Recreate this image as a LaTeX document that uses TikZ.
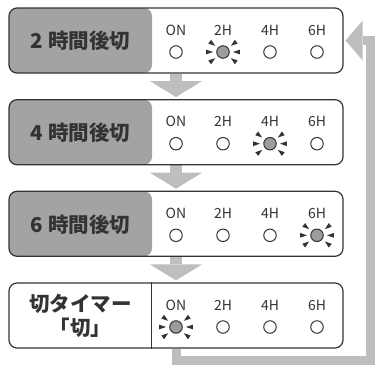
\documentclass[tikz,border=0pt]{standalone}
\usepackage{fontspec}
\usepackage{xcolor}
\usetikzlibrary{arrows.meta, positioning, calc, backgrounds}
\newfontfamily\jpfont{Noto Sans CJK JP}
\definecolor{linedark}{HTML}{333333}
\definecolor{panelgray}{HTML}{A3A3A3}
\definecolor{flowgray}{HTML}{BEBEBE}
\definecolor{lampgray}{HTML}{9C9C9C}

\begin{document}
\begin{tikzpicture}[
    x=1pt, y=-1pt,
    timerbox/.style={draw=linedark, line width=1.2pt, rounded corners=8pt, minimum width=334pt, minimum height=65pt, inner sep=0pt},
    shaded/.style={path picture={\fill[panelgray] ([xshift=-2pt]path picture bounding box.north west) rectangle ([xshift=143pt]path picture bounding box.south west);}},
    caption/.style={font=\jpfont\bfseries\fontsize{20.5}{23.5}\selectfont, text=linedark, align=center, inner sep=0pt},
    tag/.style={font=\jpfont\fontsize{14}{14}\selectfont, text=linedark, inner sep=0pt},
    lamp/.style={circle, draw=linedark, line width=1pt, minimum size=12.5pt, inner sep=0pt},
    lit/.style={lamp, fill=lampgray},
    flow/.style={draw=flowgray, line width=12pt, -{Triangle[width=52pt, length=16pt, line width=0pt]}},
    back/.style={draw=flowgray, line width=9pt, -{Triangle[width=40pt, length=17pt, line width=0pt]}},
  ]
  \useasboundingbox (0,0) rectangle (375,365);
  \node[timerbox, shaded] (row1) at (176,40.5) {};
  \node[timerbox, shaded] (row2) at (176,132.2) {};
  \node[timerbox, shaded] (row3) at (176,223.8) {};
  \node[timerbox] (row4) at (176,315.5) {};
  \draw[linedark, line width=1.2pt] ([xshift=143pt]row4.north west) -- ([xshift=143pt]row4.south west);
  \node[caption] (cap1) at (80.5,41) {2 時間後切};
  \node[caption] (cap2) at (80.5,132.7) {4 時間後切};
  \node[caption] (cap3) at (80.5,224.3) {6 時間後切};
  \node[caption] (cap4) at (80.5,316) {切タイマー\\「切」};
  % lamps, one lit per row
  \foreach \r/\top/\lit in {1/8/2, 2/99.7/3, 3/191.3/4, 4/283/1} {
    \foreach \c/\name [count=\k] in {176/ON, 223/2H, 270/4H, 317/6H} {
      \node[tag] (tag\r\k) at (\c,\top+22) {\name};
      \ifnum\k=\lit \def\state{lit}\else\def\state{lamp}\fi
      \node[\state] (lamp\r\k) at (\c,\top+44) {};
      \ifnum\k=\lit
        \foreach \a in {0,38,142,180,218,322}
          \fill[linedark] ($(lamp\r\k)+(\a:10)$) -- ($(lamp\r\k)+(\a+8:17)$) -- ($(lamp\r\k)+(\a-8:17)$) -- cycle;
      \fi
    }
  }
  \begin{scope}[on background layer]
    \foreach \a/\b in {1/2, 2/3, 3/4}
      \draw[flow] (row\a.south) -- ([yshift=2pt]row\b.north);
    \coordinate (corner) at (370.5,360);
    \draw[back] (row4.south) |- (corner) |- ([xshift=2pt]row1.east);
  \end{scope}
\end{tikzpicture}
\end{document}
